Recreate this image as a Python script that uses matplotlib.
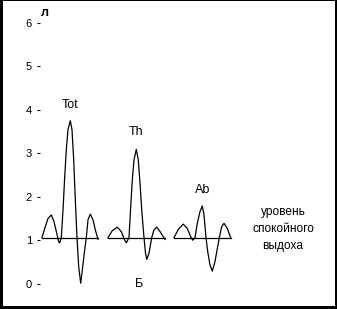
import matplotlib
matplotlib.use("Agg")
import matplotlib.pyplot as plt
from matplotlib.patches import Rectangle

# ---- data ----
rest_level = 1.06
curve_names = ["Tot", "Th", "Ab"]
curve_starts = [42, 108, 174]

tot_t = [0, 2.7, 6, 9.3, 12, 14.3, 16.7, 17.7, 19.3, 21, 22.7, 24.3, 26, 28.3, 30,
         31.7, 33.3, 35, 36.7, 38.7, 40.7, 42.7, 44.3, 46, 48.3, 51, 53.3, 56]
tot_v = [1.06, 1.27, 1.5, 1.58, 1.43, 1.2, 0.97, 0.94, 1.06, 1.69, 2.46, 3.08, 3.54, 3.75, 3.54,
         2.85, 1.93, 1.06, 0.39, 0.01, 0.39, 0.78, 1.06, 1.47, 1.6, 1.47, 1.24, 1.02]

th_t = [0, 4.3, 9.3, 13.3, 16.7, 18.3, 21, 22.7, 24.3, 26, 28.3, 30.3, 32, 33.7, 36, 37.3,
        38.7, 41, 43.7, 46, 48.7, 52, 57]
th_v = [1.06, 1.22, 1.3, 1.2, 1.0, 0.94, 1.06, 1.77, 2.39, 2.85, 3.09, 2.85, 2.31, 1.7, 1.06, 0.74,
        0.56, 0.7, 1.06, 1.24, 1.3, 1.2, 1.02]

ab_t = [0, 4.3, 9.3, 13.3, 16.7, 18.7, 21, 23.3, 26, 28.3, 30, 32, 33.7, 36, 38.3, 41,
        45.3, 47.7, 50, 53.3, 57]
ab_v = [1.06, 1.25, 1.37, 1.27, 1.08, 1.0, 1.06, 1.39, 1.66, 1.79, 1.58, 1.06, 0.74, 0.43, 0.29, 0.51,
        1.06, 1.31, 1.39, 1.27, 1.04]

yticks = [0, 1, 2, 3, 4, 5, 6]
ytick_labels = ["0", "1", "2", "3", "4", "5", "6"]
unit_label = "л"
panel_label = "Б"
rest_label = "уровень\nспокойного\nвыдоха"

# ---- figure ----
W, H = 337, 309
fig = plt.figure(figsize=(W / 100, H / 100), dpi=100)
ax = fig.add_axes([0, 0, 1, 1])
ax.set_xlim(0, W)
ax.set_ylim(-0.582, 6.526)
for s in ["top", "right", "bottom"]:
    ax.spines[s].set_visible(False)
ax.spines["left"].set_position(("data", 39.5))
ax.spines["left"].set_visible(False)
ax.set_xticks([])
ax.set_yticks(yticks)
ax.set_yticklabels(ytick_labels)
ax.tick_params(axis="y", length=2.5, width=0.8, pad=3.0, labelsize=8, direction="out")
for lab in ax.get_yticklabels():
    lab.set_fontfamily("Liberation Sans")

font = dict(family="Liberation Sans", color="black")

series = [(tot_t, tot_v), (th_t, th_v), (ab_t, ab_v)]
label_pos = [(70, 4.04), (136, 3.42), (203, 2.08)]
for (t, v), x0, name, (lx, ly) in zip(series, curve_starts, curve_names, label_pos):
    xs = [x0 + ti for ti in t]
    ax.plot(xs, v, color="black", lw=0.9)
    ax.plot([xs[0], xs[-1]], [rest_level, rest_level], color="black", lw=0.9)
    ax.text(lx, ly, name, ha="center", va="baseline", fontsize=9, **font)

ax.text(139, -0.07, panel_label, ha="center", va="baseline", fontsize=9, **font)
ax.text(45, 6.16, unit_label, ha="center", va="baseline", fontsize=9, fontweight="bold", **font)

for line, yv in zip(rest_label.split("\n"), [1.58, 1.20, 0.79]):
    ax.text(283, yv, line, ha="center", va="baseline", fontsize=8.6, **font)

# frame around the picture
fw = 1.0 / W
fh = 1.0 / H
for (x, y, w, h) in [(0, 0, 3 * fw, 1), (1 - 2 * fw, 0, 2 * fw, 1),
                     (0, 0, 1, 3 * fh), (0, 1 - fh, 1, fh)]:
    fig.patches.append(Rectangle((x, y), w, h, transform=fig.transFigure,
                                 facecolor="black", edgecolor="none"))

fig.savefig("out.png", dpi=100)
